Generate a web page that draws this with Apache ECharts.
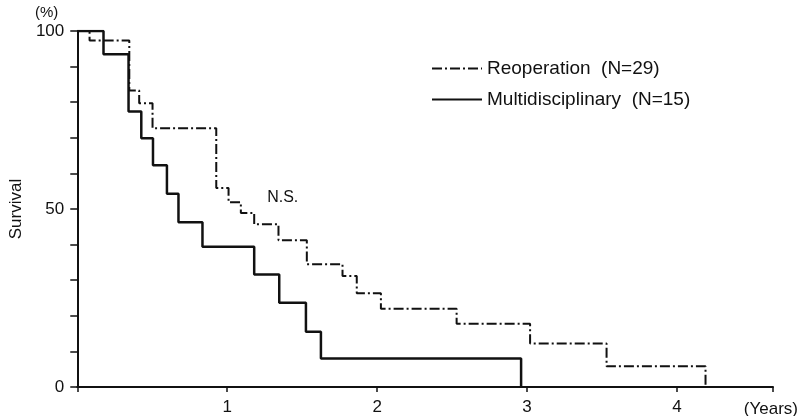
<!DOCTYPE html>
<html>
<head>
<meta charset="utf-8">
<script src="https://cdn.jsdelivr.net/npm/echarts@6/dist/echarts.min.js"></script>
<style>
  html, body { margin: 0; padding: 0; background: #fff; }
  #chart { width: 801px; height: 416px; }
</style>
</head>
<body>
<div id="chart"></div>
<script>
// survival curves (years, %)
const reopTimes = [0, 0.082, 0.347, 0.413, 0.502, 0.927, 1.009, 1.091, 1.18, 1.342, 1.531, 1.769, 1.864, 2.025, 2.53, 3.02, 3.53, 4.19];
const reopSurv  = [100, 97.3, 83.3, 79.7, 72.7, 55.9, 51.9, 48.9, 45.7, 41.2, 34.5, 31.2, 26.3, 22.0, 17.8, 12.2, 5.8, 0];
const multiTimes = [0, 0.175, 0.342, 0.427, 0.505, 0.598, 0.675, 0.835, 1.18, 1.347, 1.525, 1.625, 2.96];
const multiSurv  = [100, 93.5, 77.4, 69.9, 62.3, 54.3, 46.3, 39.4, 31.6, 23.7, 15.5, 8.0, 0];
const seriesNames = ['Reoperation  (N=29)', 'Multidisciplinary  (N=15)'];
const yLabels = [0, 50, 100];
const xLabels = [1, 2, 3, 4];
const nsNote = { text: 'N.S.', at: [1.37, 53.2] };

const FONT = "'Liberation Sans', Arial, sans-serif";

function pairs(xs, ys) {
    return xs.map((x, i) => [x, ys[i]]);
}

let chart = echarts.init(document.getElementById('chart'));
let option = {
    animation: false,
    textStyle: { fontFamily: FONT, color: '#111' },
    grid: { left: 77, right: 28, top: 31, bottom: 28, containLabel: false },
    legend: {
        orient: 'vertical',
        left: 431,
        top: 59,
        padding: 0,
        itemWidth: 50,
        itemHeight: 18,
        itemGap: 12,
        itemStyle: { opacity: 0 },
        textStyle: { fontSize: 19, color: '#111', fontFamily: FONT },
        data: seriesNames
    },
    xAxis: {
        type: 'value',
        min: 0,
        max: 4.64,
        interval: 1,
        splitLine: { show: false },
        axisLine: { lineStyle: { color: '#111', width: 2 } },
        axisTick: { length: 5, lineStyle: { color: '#111', width: 1.5 } },
        axisLabel: {
            fontSize: 17, color: '#111', margin: 12,
            formatter: v => xLabels.indexOf(v) >= 0 ? String(v) : ''
        }
    },
    yAxis: {
        type: 'value',
        min: 0,
        max: 100,
        interval: 10,
        name: 'Survival',
        nameLocation: 'middle',
        nameRotate: 90,
        nameGap: 47,
        nameTextStyle: { fontSize: 17, color: '#111' },
        splitLine: { show: false },
        axisLine: { show: true, lineStyle: { color: '#111', width: 2 } },
        axisTick: { show: true, length: 7, lineStyle: { color: '#111', width: 1.5 } },
        axisLabel: {
            fontSize: 17, color: '#111', margin: 13,
            formatter: v => yLabels.indexOf(v) >= 0 ? String(v) : ''
        }
    },
    graphic: [
        { type: 'text', left: 35, top: 5, style: { text: '(%)', font: "15px " + FONT, fill: '#111' } },
        { type: 'text', right: 3, top: 401, style: { text: '(Years)', font: "17px " + FONT, fill: '#111' } }
    ],
    series: [
        {
            name: seriesNames[0],
            type: 'line',
            step: 'end',
            symbol: 'none',
            data: pairs(reopTimes, reopSurv),
            lineStyle: { color: '#111', width: 2, type: [10, 3, 2, 3] },
            itemStyle: { color: '#111' },
            markPoint: {
                symbol: 'circle',
                symbolSize: 0,
                label: { show: true, formatter: nsNote.text, fontSize: 16, color: '#111', fontFamily: FONT },
                data: [{ coord: nsNote.at }]
            }
        },
        {
            name: seriesNames[1],
            type: 'line',
            step: 'end',
            symbol: 'none',
            data: pairs(multiTimes, multiSurv),
            lineStyle: { color: '#111', width: 2.5, type: 'solid' },
            itemStyle: { color: '#111' }
        }
    ]
};
chart.setOption(option);
</script>
</body>
</html>
